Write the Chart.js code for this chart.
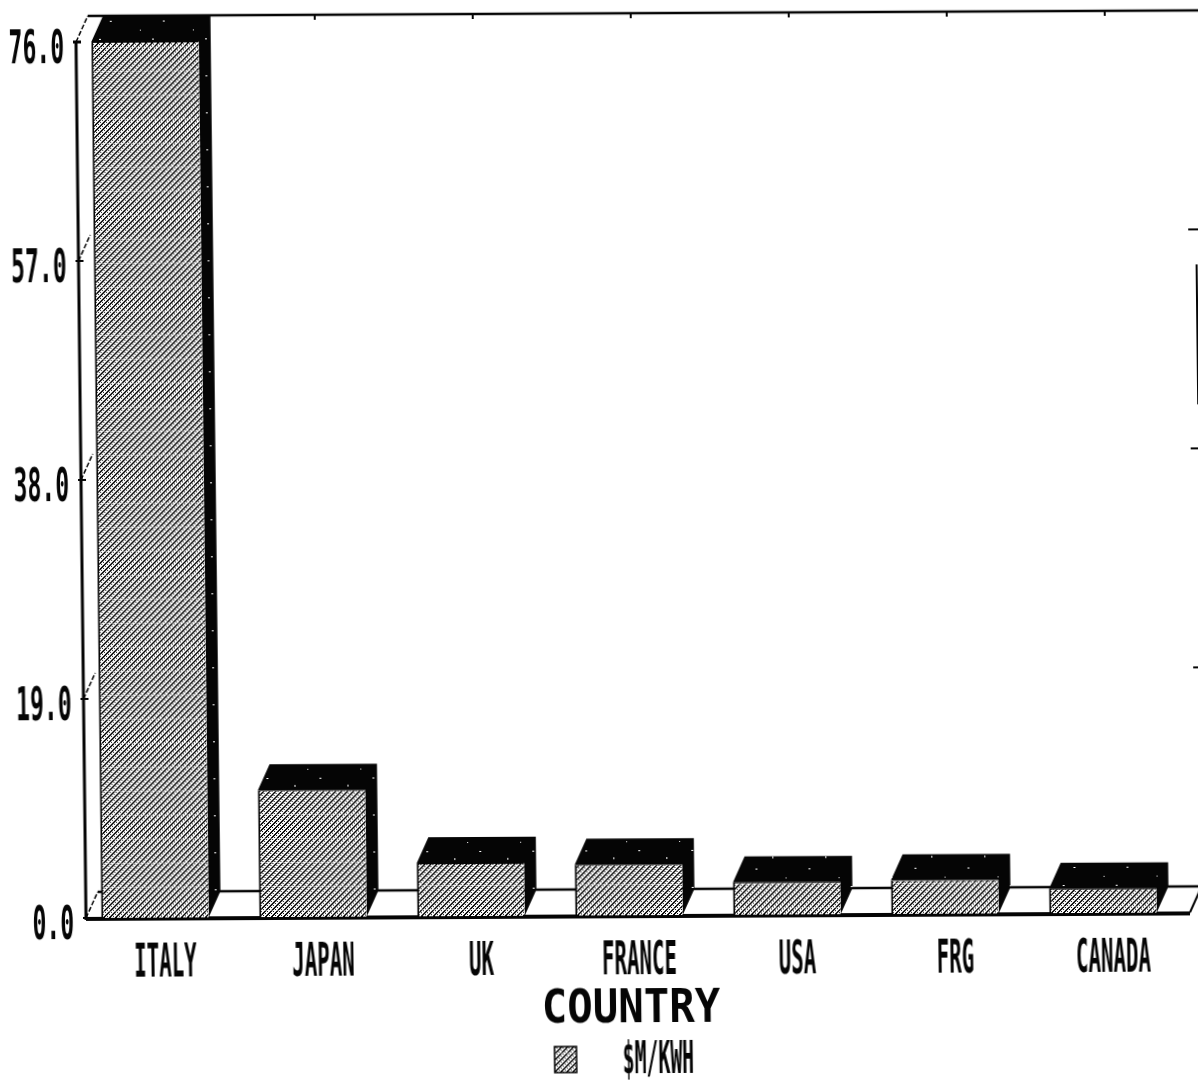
<!DOCTYPE html>
<html>
<head>
<meta charset="utf-8">
<title>Country chart</title>
<script src="https://cdn.jsdelivr.net/npm/chart.js@4"></script>
<style>
  html, body { margin: 0; background: #fff; overflow: hidden; width: 1198px; height: 1080px; }
  /* the scan is slightly skewed, so is the canvas */
  #chart { display: block; transform-origin: 86px 918px; transform: matrix(1, -0.005, 0.0114, 1, 0, 0); }
</style>
</head>
<body>
<canvas id="chart" width="1230" height="1090"></canvas>
<script>
// Data
const countries = ["ITALY", "JAPAN", "UK", "FRANCE", "USA", "FRG", "CANADA"];
const costs = [76, 11, 4.6, 4.4, 2.8, 2.9, 2.1];
const seriesName = "$M/KWH";
const axisName = "COUNTRY";
const yMax = 76;
const yStep = 19;

// depth of the fake 3D box
const depthX = 12;
const depthY = 26;
const ink = "#050505";

// stippled hatch used on the bar fronts
function makeHatch() {
  const c = document.createElement("canvas");
  c.width = 6; c.height = 24;
  const g = c.getContext("2d");
  g.fillStyle = "#fff";
  g.fillRect(0, 0, 6, 24);
  g.fillStyle = ink;
  for (let y = 0; y < 24; y++) {
    for (let x = 0; x < 6; x++) {
      const d = (x + y) % 6;
      if (d === 0 || d === 1 || (d === 3 && y % 2 === 0)) g.fillRect(x, y, 1, 1);
    }
  }
  g.fillStyle = "rgba(255,255,255,0.4)";
  g.fillRect(0, 23, 6, 1);
  return g.createPattern(c, "repeat");
}

// nearly black with a few white specks, for the side and top faces
function makeSpeckle() {
  const c = document.createElement("canvas");
  c.width = 53; c.height = 37;
  const g = c.getContext("2d");
  g.fillStyle = ink;
  g.fillRect(0, 0, 53, 37);
  g.fillStyle = "#fff";
  g.fillRect(3, 2, 2, 1);
  g.fillRect(31, 9, 1, 2);
  g.fillRect(14, 21, 2, 1);
  g.fillRect(44, 30, 1, 1);
  return g.createPattern(c, "repeat");
}

// tall narrow text like the plotter font
function squeezed(ctx, text, x, y, scaleX, size, align) {
  ctx.save();
  ctx.translate(x, y);
  ctx.scale(scaleX, 1);
  ctx.font = "bold " + size + "px 'DejaVu Sans Mono'";
  ctx.fillStyle = ink;
  ctx.textAlign = align || "center";
  ctx.textBaseline = "middle";
  ctx.fillText(text, 0, 0);
  ctx.restore();
}

function line(ctx, x1, y1, x2, y2, w) {
  ctx.lineWidth = w;
  ctx.beginPath();
  ctx.moveTo(x1, y1);
  ctx.lineTo(x2, y2);
  ctx.stroke();
}

const speckle = makeSpeckle();

const box3d = {
  id: "box3d",
  beforeDatasetsDraw(chart) {
    const ctx = chart.ctx;
    const xs = chart.scales.x, ys = chart.scales.y;
    const axisX = 86;
    const right = 1190;
    const base = ys.getPixelForValue(0);
    const top = ys.getPixelForValue(yMax);

    ctx.save();
    ctx.strokeStyle = ink;

    // walls and floor
    line(ctx, axisX, top, axisX, base + 2, 3);
    line(ctx, axisX - 3, top, axisX + 5, top, 3);
    line(ctx, axisX, base + 1, right, base + 1, 4);
    line(ctx, axisX + depthX, top - depthY, 1230, top - depthY, 2.5);
    line(ctx, axisX + depthX, base - depthY, right + depthX + 4, base - depthY, 2.5);
    line(ctx, right, base, right + depthX, base - depthY, 2);
    line(ctx, 1204, 270, 1204, 410, 2);

    // y ticks with their slanted depth marks
    ys.ticks.forEach(t => {
      const y = ys.getPixelForValue(t.value);
      ctx.setLineDash([5, 2]);
      line(ctx, axisX, y, axisX + depthX, y - depthY, 1.5);
      ctx.setLineDash([]);
      line(ctx, axisX - 3, y, axisX + 5, y, 2);
      if (t.value > 0 && t.value < yMax) line(ctx, 1196, y - depthY, 1206, y - depthY, 2);
      squeezed(ctx, t.value.toFixed(1), axisX - 12, y + 9, 0.5, 46, "right");
    });

    // x labels and ticks on the top edge
    countries.forEach((name, i) => {
      const x = xs.getPixelForTick(i);
      squeezed(ctx, name, x + 10, base + 47, 0.45, 46);
      line(ctx, x + depthX, top - depthY, x + depthX, top - depthY + 5, 2);
    });
    squeezed(ctx, axisName, 630, 1013, 0.92, 46);

    // legend
    ctx.fillStyle = chart.data.datasets[0].backgroundColor;
    ctx.fillRect(553, 1049, 22, 26);
    ctx.lineWidth = 1.5;
    ctx.strokeRect(553, 1049, 22, 26);
    squeezed(ctx, seriesName, 621, 1065, 0.45, 44, "left");

    // side and top faces of each bar, from the bar elements
    chart.getDatasetMeta(0).data.forEach(bar => {
      const l = bar.x - bar.width / 2, r = bar.x + bar.width / 2;
      ctx.fillStyle = speckle;
      ctx.beginPath();
      ctx.moveTo(l, bar.y);
      ctx.lineTo(l + depthX, bar.y - depthY);
      ctx.lineTo(r + depthX, bar.y - depthY);
      ctx.lineTo(r + depthX, bar.base - depthY);
      ctx.lineTo(r, bar.base);
      ctx.lineTo(r, bar.y);
      ctx.closePath();
      ctx.fill();
    });
    ctx.restore();
  }
};

new Chart(document.getElementById("chart"), {
  type: "bar",
  data: {
    labels: countries,
    datasets: [{
      label: seriesName,
      data: costs,
      backgroundColor: makeHatch(),
      borderColor: ink,
      borderWidth: { left: 2, top: 1, right: 0, bottom: 0 },
      barPercentage: 0.68,
      categoryPercentage: 1
    }]
  },
  plugins: [box3d],
  options: {
    responsive: false,
    animation: false,
    devicePixelRatio: 1,
    layout: { padding: { left: 76, top: 42, right: 48, bottom: 172 } },
    plugins: { legend: { display: false }, tooltip: { enabled: false } },
    scales: {
      x: {
        afterFit(s) { s.height = 0; },
        grid: { display: false },
        border: { display: false },
        ticks: { display: false }
      },
      y: {
        min: 0,
        max: yMax,
        afterFit(s) { s.width = 0; },
        grid: { display: false },
        border: { display: false },
        ticks: { display: false, stepSize: yStep }
      }
    }
  }
});
</script>
</body>
</html>
